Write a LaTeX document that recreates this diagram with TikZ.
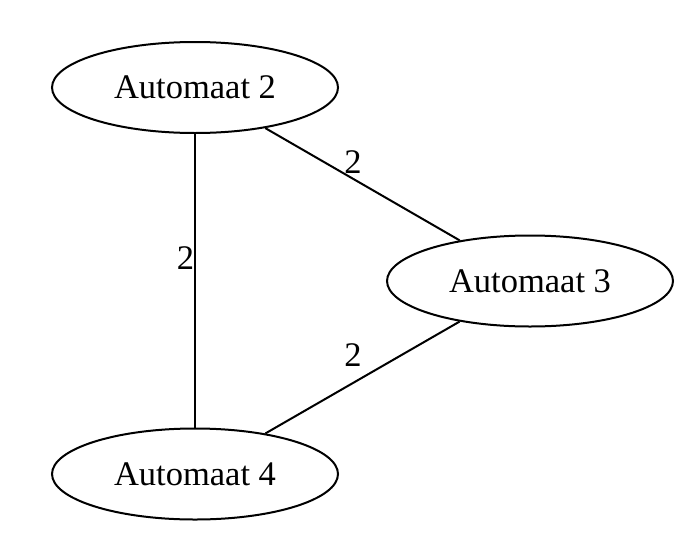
\documentclass[tikz,border=0pt]{standalone}
\usepackage{fontspec}
\setmainfont{Liberation Serif}
\usetikzlibrary{shapes.geometric}

\tikzset{
  automaat/.style={draw,ellipse,line width=2pt,inner sep=0pt,minimum width=286pt,minimum height=91pt,font=\fontsize{34.5}{40}\selectfont},
  gewicht/.style={inner sep=0pt,font=\fontsize{34.5}{40}\selectfont},
  rand/.style={line width=2pt}
}

\begin{document}
\begin{tikzpicture}[x=1pt,y=-1pt]
    \useasboundingbox (0,0) rectangle (695,546);
    % automaten
    \node[automaat] (a2) at (195,87.5) {Automaat 2};
    \node[automaat] (a3) at (530,281) {Automaat 3};
    \node[automaat] (a4) at (195,474) {Automaat 4};

    % verbindingen
    \draw[rand] (a2) -- (a4);
    \draw[rand] (a2) -- (a3);
    \draw[rand] (a3) -- (a4);

    % gewichten
    \node[gewicht] (w24) at (185.5,258) {2};
    \node[gewicht] (w23) at (353,162) {2};
    \node[gewicht] (w34) at (353,355) {2};
  \end{tikzpicture}
\end{document}
